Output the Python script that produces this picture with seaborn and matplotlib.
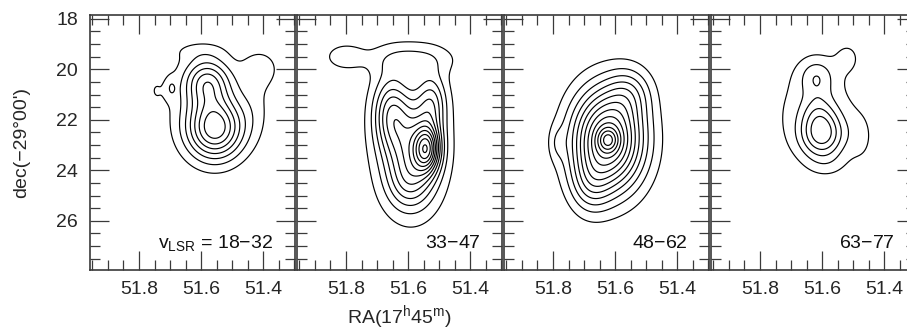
import numpy as np
import matplotlib
matplotlib.use("Agg")
import matplotlib.pyplot as plt
import seaborn as sns
from matplotlib.ticker import MultipleLocator, FixedLocator

# ---------------- data ----------------
ra_limits = (51.958, 51.297)      # RA axis runs right-to-left
dec_limits = (27.95, 17.85)       # dec axis inverted
x_major_ticks = [51.8, 51.6, 51.4]
y_major_ticks = [18, 20, 22, 24, 26]
velocity_labels = [r"v$_{\rm LSR}$ = 18$-$32", r"33$-$47", r"48$-$62", r"63$-$77"]

# emission components per panel: RA centre, dec centre, amplitude, sigma RA, sigma dec
p1_ra   = [51.555, 51.581, 51.587, 51.697, 51.748, 51.405, 51.426, 51.619]
p1_dec  = [22.325, 20.50, 21.216, 20.741, 20.82, 19.95, 21.414, 19.236]
p1_amp  = [0.92, 0.58, 0.08, 0.14, 0.08, 0.15, 0.08, 0.08]
p1_sra  = [0.0645, 0.0516, 0.145, 0.0129, 0.0258, 0.045, 0.0387, 0.08]
p1_sdec = [0.871, 0.65, 1.584, 0.317, 0.554, 0.55, 0.99, 0.30]
p1_levels = [0.125, 0.25, 0.375, 0.5, 0.625, 0.75, 0.875]

p2_ra   = [51.5386, 51.590, 51.658, 51.5225, 51.596, 51.590, 51.803]
p2_dec  = [23.156, 23.10, 21.69, 21.295, 24.55, 19.60, 19.50]
p2_amp  = [0.45, 0.40, 0.25, 0.20, 0.12, 0.12, 0.08]
p2_sra  = [0.029, 0.064, 0.0387, 0.0323, 0.048, 0.090, 0.045]
p2_sdec = [0.63, 1.45, 0.99, 0.792, 0.72, 0.45, 0.36]
p2_levels = [0.045, 0.11, 0.175, 0.24, 0.305, 0.37, 0.435, 0.50, 0.565, 0.63, 0.695, 0.76, 0.825]

p3_ra   = [51.6225, 51.6225, 51.6806, 51.552, 51.787]
p3_dec  = [22.80, 22.80, 24.60, 20.90, 22.92]
p3_amp  = [0.75, 0.20, 0.15, 0.15, 0.07]
p3_sra  = [0.0807, 0.0226, 0.045, 0.050, 0.019]
p3_sdec = [1.40, 0.317, 0.80, 0.71, 0.475]
p3_levels = [0.07, 0.14, 0.21, 0.28, 0.35, 0.42, 0.49, 0.56, 0.63, 0.70, 0.77, 0.84, 0.91]

p4_ra   = [51.600, 51.613, 51.6225, 51.618, 51.517, 51.471, 51.581]
p4_dec  = [22.602, 21.691, 21.60, 20.305, 19.50, 22.80, 23.79]
p4_amp  = [0.75, 0.25, 0.22, 0.335, 0.15, 0.12, 0.10]
p4_sra  = [0.0484, 0.0387, 0.1226, 0.0387, 0.0323, 0.0323, 0.048]
p4_sdec = [0.634, 0.554, 1.60, 0.515, 0.475, 0.792, 0.40]
p4_levels = [0.167, 0.333, 0.5, 0.667, 0.833]

panels = [
    (p1_ra, p1_dec, p1_amp, p1_sra, p1_sdec, p1_levels),
    (p2_ra, p2_dec, p2_amp, p2_sra, p2_sdec, p2_levels),
    (p3_ra, p3_dec, p3_amp, p3_sra, p3_sdec, p3_levels),
    (p4_ra, p4_dec, p4_amp, p4_sra, p4_sdec, p4_levels),
]

# ---------------- style ----------------
sns.set_theme(style="ticks")
plt.rcParams["font.family"] = ["Liberation Sans", "DejaVu Sans"]
plt.rcParams["mathtext.fontset"] = "custom"
plt.rcParams["mathtext.rm"] = "Liberation Sans"
plt.rcParams["mathtext.it"] = "Liberation Sans:italic"
plt.rcParams["mathtext.default"] = "regular"

FS = 14
spine_col = "#3a3a3a"

fig = plt.figure(figsize=(9.07, 3.31), dpi=100)
W, H = 907.0, 331.0

grid_ra = np.linspace(51.20, 52.05, 420)
grid_dec = np.linspace(17.3, 28.5, 420)
RA, DEC = np.meshgrid(grid_ra, grid_dec)

for i, (cra, cdec, camp, csra, csdec, lev) in enumerate(panels):
    left = 90 + 207 * i
    ax = fig.add_axes([left / W, (H - 270) / H, 205 / W, 255 / H])
    field = np.zeros_like(RA)
    for r0, d0, a, sr, sd in zip(cra, cdec, camp, csra, csdec):
        field += a * np.exp(-0.5 * (((RA - r0) / sr) ** 2 + ((DEC - d0) / sd) ** 2))
    ax.contour(RA, DEC, field, levels=lev, colors="black", linewidths=0.85)

    ax.set_xlim(*ra_limits)
    ax.set_ylim(*dec_limits)
    ax.xaxis.set_major_locator(FixedLocator(x_major_ticks))
    ax.xaxis.set_minor_locator(MultipleLocator(0.05))
    ax.yaxis.set_major_locator(FixedLocator(y_major_ticks))
    ax.yaxis.set_minor_locator(MultipleLocator(0.5))
    ax.set_xticklabels([f"{t:.1f}" for t in x_major_ticks], fontsize=FS)
    if i == 0:
        ax.set_yticklabels([str(t) for t in y_major_ticks], fontsize=FS)
        ax.set_ylabel("dec(\u221229\u00b000')", fontsize=FS, labelpad=19)
    else:
        ax.set_yticklabels([])
    if i == 1:
        ax.set_xlabel(r"RA(17$^{\rm h}$45$^{\rm m}$)", fontsize=FS, labelpad=3.5)

    ax.tick_params(which="both", direction="in", top=True, right=True,
                   color=spine_col, width=0.9)
    ax.tick_params(which="major", length=14)
    ax.tick_params(which="minor", length=7)
    ax.tick_params(axis="x", which="major", pad=8)
    ax.tick_params(axis="y", which="major", pad=8.5)
    for s in ax.spines.values():
        s.set_color(spine_col)
        s.set_linewidth(1.2)
    ax.grid(False)
    ax.text(0.895, 0.088, velocity_labels[i], transform=ax.transAxes,
            ha="right", va="baseline", fontsize=FS, color="#111111")

fig.savefig("out.png", dpi=100)
